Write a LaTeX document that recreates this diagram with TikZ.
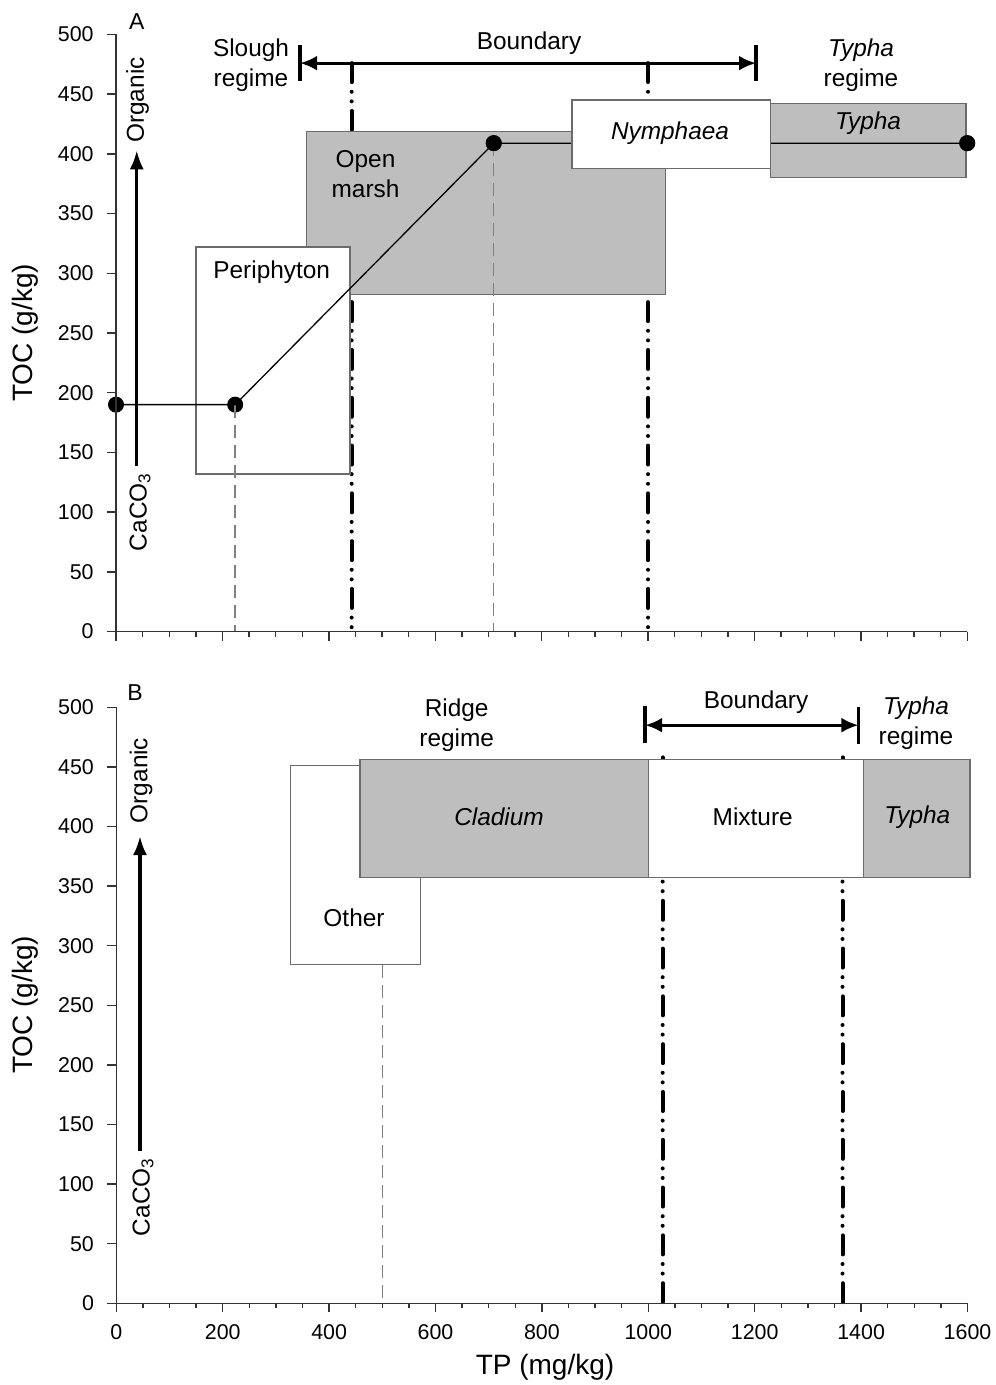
\documentclass[tikz,border=0pt]{standalone}
\usepackage{fontspec}
\setmainfont{Liberation Sans}
\usetikzlibrary{arrows.meta}
\definecolor{boxgray}{gray}{0.745}
\definecolor{edgegray}{gray}{0.42}
\definecolor{axisgray}{gray}{0.2}
\definecolor{dashgray}{gray}{0.5}
\tikzset{
  axisline/.style={draw=axisgray, line width=0.8pt},
  tickmark/.style={draw=axisgray, line width=0.7pt},
  graybox/.style={fill=boxgray, draw=edgegray, line width=0.7pt},
  whitebox/.style={fill=white, draw=edgegray, line width=0.7pt},
  guide/.style={draw=dashgray, line width=0.7pt, dash pattern=on 6.5pt off 3.5pt},
  ddline/.style={draw=black, line width=2pt, line cap=round, dash pattern=on 9.5pt off 4.8pt on 0pt off 4.8pt on 0pt off 4.8pt},
  dataline/.style={draw=black, line width=0.65pt},
  datadot/.style={circle, fill=black, inner sep=0pt, minimum size=8pt},
  bndarrow/.style={draw=black, line width=1.6pt, {Latex[length=8.5pt,width=7.5pt]}-{Latex[length=8.5pt,width=7.5pt]}},
  bndbar/.style={draw=black, line width=1.7pt},
  trendarrow/.style={draw=black, line width=1.6pt, -{Latex[length=9.5pt,width=7pt]}},
  ticklab/.style={font=\fontsize{10.7}{12}\selectfont, inner sep=0pt},
  lab/.style={font=\fontsize{12.2}{15}\selectfont, inner sep=0pt, align=center},
  ilab/.style={font=\fontsize{12.2}{15}\selectfont\itshape, inner sep=0pt},
  axlab/.style={font=\fontsize{14}{16}\selectfont, inner sep=0pt},
  panlab/.style={font=\fontsize{11.5}{13}\selectfont, inner sep=0pt},
}
\begin{document}
\begin{tikzpicture}[x=0.5pt,y=-0.5pt]
\useasboundingbox (0,0) rectangle (995,1385);
\fill[white] (0,0) rectangle (995,1385);

% ================= Panel A =================
\begin{scope}[shift={(58pt,-315.75pt)}, x=0.266pt, y=0.597pt]
  \coordinate (ddA1t) at (443,476); \coordinate (ddA1b) at (443,0);
  \coordinate (ddA2t) at (1000,476); \coordinate (ddA2b) at (1000,0);
  \draw[ddline] (ddA1t) -- (ddA1b);
  \draw[ddline] (ddA2t) -- (ddA2b);
  \draw[graybox] (358,282) rectangle (1033,419);
  \draw[whitebox] (150,132) rectangle (440,322);
  \draw[graybox] (1230,380) rectangle (1598,442);
  \node[datadot] (pA1) at (0,190) {};
  \node[datadot] (pA2) at (224,190) {};
  \node[datadot] (pA3) at (710,409) {};
  \node[datadot] (pA4) at (1600,409) {};
  \coordinate (gA1) at (224,0);
  \coordinate (gA2) at (710,0);
  \draw[guide] (pA2.center) -- (gA1);
  \draw[guide] (pA3.center) -- (gA2);
  \draw[dataline] (pA1.center) -- (pA2.center) -- (pA3.center) -- (pA4.center);
  \draw[whitebox] (857,388) rectangle (1230,445);
  \node[datadot] at (710,409) {};
  \node[datadot] at (1600,409) {};
  % boundary arrow
  \coordinate (bAl) at (346,476); \coordinate (bAr) at (1203,476);
  \draw[bndbar] (346,461) -- (346,491);
  \draw[bndbar] (1203,461) -- (1203,491);
  \draw[bndarrow] (bAl) -- (bAr);
  % trend arrow
  \coordinate (tAb) at (39,139); \coordinate (tAt) at (39,403);
  \draw[trendarrow] (tAb) -- (tAt);
  % axes
  \draw[axisline] (0,500) -- (0,0) -- (1600,0);
  \foreach \v in {0,50,...,500} {
    \draw[tickmark] (0,\v) -- ++(-4.5pt,0);
    \node[ticklab, anchor=east] (tA\v) at ([xshift=-11pt]0,\v) {\v};
  }
  \foreach \v in {0,50,...,1600} {
    \pgfmathtruncatemacro{\m}{mod(\v,200)}
    \ifnum\m=0
      \draw[tickmark] (\v,0) -- ++(0,-4.5pt);
    \else
      \draw[tickmark] (\v,0) -- ++(0,-2.5pt);
    \fi
  }
\end{scope}

% Panel A texts (pixel coordinates)
\node[panlab] (labA) at (136.7,21.7) {A};
\node[lab] (slough) at (251,65) {Slough\\regime};
\node[lab] (bndA) at (529,43) {Boundary};
\node[lab] (typhaRegA) at (861,65) {\textit{Typha}\\regime};
\node[lab] (openmarsh) at (365.5,174) {Open\\marsh};
\node[lab] (periph) at (271.7,272) {Periphyton};
\node[ilab] (nymph) at (670,133) {Nymphaea};
\node[ilab] (typhaA) at (868,123) {Typha};
\node[lab, rotate=90] (orgA) at (137.5,100) {Organic};
\node[lab, rotate=90] (cacoA) at (140,512) {CaCO\textsubscript{3}};
\node[axlab, rotate=90] (tocA) at (25,333) {TOC (g/kg)};

% ================= Panel B =================
\begin{scope}[shift={(58.15pt,-651.65pt)}, x=0.266pt, y=0.596pt]
  \coordinate (ddB1t) at (1027,458); \coordinate (ddB1b) at (1027,0);
  \coordinate (ddB2t) at (1365,458); \coordinate (ddB2b) at (1365,0);
  \draw[ddline] (ddB1t) -- (ddB1b);
  \draw[ddline] (ddB2t) -- (ddB2b);
  \draw[whitebox] (327,284) rectangle (572,451);
  \draw[graybox] (458,357) rectangle (1000,456);
  \draw[whitebox] (1000,357) rectangle (1405,456);
  \draw[graybox] (1405,357) rectangle (1605,456);
  \coordinate (gB1t) at (500,284); \coordinate (gB1b) at (500,0);
  \draw[guide] (gB1t) -- (gB1b);
  % boundary arrow
  \coordinate (bBl) at (994,485); \coordinate (bBr) at (1395,485);
  \draw[bndbar] (994,470) -- (994,501);
  \draw[bndbar] (1395,469) -- (1395,500);
  \draw[bndarrow] (bBl) -- (bBr);
  % trend arrow
  \coordinate (tBb) at (44.5,128); \coordinate (tBt) at (44.5,392);
  \draw[trendarrow] (tBb) -- (tBt);
  % axes
  \draw[axisline] (0,500) -- (0,0) -- (1600,0);
  \foreach \v in {0,50,...,500} {
    \draw[tickmark] (0,\v) -- ++(-4.5pt,0);
    \node[ticklab, anchor=east] (tB\v) at ([xshift=-11pt]0,\v) {\v};
  }
  \foreach \v in {0,50,...,1600} {
    \pgfmathtruncatemacro{\m}{mod(\v,200)}
    \ifnum\m=0
      \draw[tickmark] (\v,0) -- ++(0,-4.5pt);
      \node[ticklab] (xB\v) at ([yshift=-14.3pt]\v,0) {\v};
    \else
      \draw[tickmark] (\v,0) -- ++(0,-2.5pt);
    \fi
  }
\end{scope}

% Panel B texts (pixel coordinates)
\node[panlab] (labB) at (135,693) {B};
\node[lab] (ridge) at (456.7,725) {Ridge\\regime};
\node[lab] (bndB) at (756,702) {Boundary};
\node[lab] (typhaRegB) at (916,723) {\textit{Typha}\\regime};
\node[ilab] (cladium) at (499,817) {Cladium};
\node[lab] (mixture) at (752.7,817) {Mixture};
\node[ilab] (typhaB) at (917.3,817) {Typha};
\node[lab] (other) at (354,918) {Other};
\node[lab, rotate=90] (orgB) at (141,780.5) {Organic};
\node[lab, rotate=90] (cacoB) at (143,1197) {CaCO\textsubscript{3}};
\node[axlab, rotate=90] (tocB) at (25,1005) {TOC (g/kg)};
\node[axlab] (tp) at (545,1367) {TP (mg/kg)};
\end{tikzpicture}
\end{document}
